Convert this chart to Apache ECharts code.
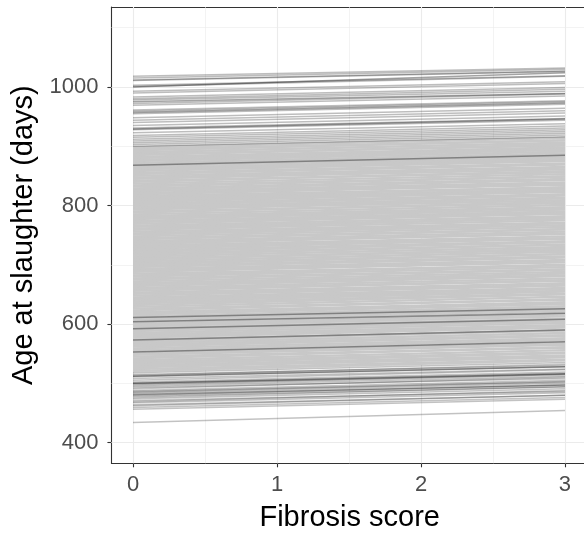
<!DOCTYPE html>
<html>
<head>
<meta charset="utf-8">
<script src="https://cdn.jsdelivr.net/npm/echarts@6/dist/echarts.min.js"></script>
<style>
  html, body { margin: 0; padding: 0; background: #fff; }
  #chart { width: 584px; height: 533px; }
</style>
</head>
<body>
<div id="chart"></div>
<script>
// fibrosis score at the two ends of each animal's line
const fibrosisScore = [0, 3];

// predicted age at slaughter (days), upper band
const upperAt0 = [1018, 1015, 1012, 1011, 1003, 1001, 993, 990, 983, 980, 978, 972, 969, 961, 959,
  955, 948, 944, 940, 935, 931, 928, 923, 918, 915, 912, 909, 906, 903, 900];
const upperAt3 = [1032, 1030, 1027, 1026, 1019, 1018, 1009, 1006, 999, 996, 993, 988, 985, 977, 975,
  971, 964, 960, 956, 951, 947, 944, 938, 934, 931, 928, 925, 922, 919, 916];

// middle (dense) band
const middleAt0 = [898, 895, 893, 890, 887, 885, 882, 880, 877, 875,
  872, 870, 868, 867, 866, 863, 861, 858, 855,
  853, 850, 847, 845, 842, 840, 837, 834, 832, 829,
  827, 824, 821, 819, 816, 813, 811, 809, 806, 803,
  801, 798, 795, 793, 790, 788, 785, 782, 779, 777,
  774, 772, 769, 766, 764, 761, 759, 756, 753, 751,
  748, 745, 743, 740, 738, 735, 732, 730, 727, 724,
  722, 719, 717, 714, 711, 709, 706, 703, 701, 698,
  696, 693, 690, 688, 685, 682, 680, 677, 675, 672,
  669, 667, 664, 661, 659, 656, 653, 651, 648, 645, 643, 641,
  638, 635, 632, 629, 626, 623, 620, 618, 616, 613,
  610, 608, 607, 604, 601, 598, 596, 593, 590, 588,
  585, 582, 579, 577, 574, 571, 568, 565, 562, 559,
  556, 553, 550, 548, 545, 542, 539, 536, 533, 530,
  527, 524, 521];
const middleAt3 = [914, 910, 910, 906, 901, 903, 898, 895, 894, 891,
  888, 885, 885, 881, 884, 879, 876, 875, 871,
  869, 865, 864, 861, 856, 858, 853, 849, 849, 845,
  843, 839, 838, 835, 830, 831, 827, 824, 823, 819,
  817, 813, 812, 809, 804, 806, 801, 797, 796, 793,
  790, 787, 786, 782, 778, 779, 775, 771, 770, 767,
  764, 760, 760, 756, 752, 753, 748, 745, 744, 740,
  738, 734, 734, 730, 725, 727, 722, 718, 718, 714,
  712, 708, 707, 704, 699, 700, 696, 692, 692, 688,
  685, 682, 681, 677, 673, 674, 669, 666, 665, 661, 659, 656,
  655, 651, 650, 646, 641, 642, 637, 634, 634, 630,
  627, 624, 625, 621, 616, 617, 613, 609, 608, 605,
  602, 598, 597, 594, 589, 590, 585, 581, 580, 576,
  573, 569, 568, 565, 560, 561, 556, 552, 551, 547,
  544, 540, 539];

// lower band
const lowerAt0 = [518, 515, 513, 511, 508, 505, 502, 500, 499, 497,
  495, 493, 491, 488, 486, 485, 483, 480, 478, 476,
  474, 471, 469, 467, 464, 462, 459, 456, 434];
const lowerAt3 = [535, 530, 532, 528, 524, 523, 519, 517, 515, 515,
  512, 508, 510, 505, 502, 503, 500, 497, 494, 494,
  491, 486, 488, 484, 480, 480, 476, 473, 454];

// animals whose lines stand out darker
const darkAt0 = [1000, 975, 957, 929, 868, 611, 604, 592, 573, 553, 512, 500, 481];
const darkAt3 = [1024, 989, 973, 946, 885, 626, 618, 608, 590, 570, 528, 516, 497];

const xTicks = [0, 1, 2, 3];
const yTicks = [400, 600, 800, 1000];
const xMinor = [0.5, 1.5, 2.5];
const yMinor = [500, 700, 900, 1100];

const font = "'Liberation Sans', Arial, sans-serif";
const mChart = echarts.init(document.getElementById('chart'));

const gridLines = [];
xTicks.forEach(v => gridLines.push({ xAxis: v, lineStyle: { width: 1.1 } }));
xMinor.forEach(v => gridLines.push({ xAxis: v, lineStyle: { width: 0.6 } }));
yTicks.forEach(v => gridLines.push({ yAxis: v, lineStyle: { width: 1.1 } }));
yMinor.forEach(v => gridLines.push({ yAxis: v, lineStyle: { width: 0.6 } }));

const series = [{
  type: 'line',
  data: [],
  silent: true,
  z: 1,
  markLine: {
    z: 1,
    silent: true,
    symbol: 'none',
    label: { show: false },
    animation: false,
    lineStyle: { color: '#ebebeb', type: 'solid' },
    data: gridLines
  }
}];

const addLines = (at0, at3, style, z) => {
  at0.forEach((a, i) => {
    series.push({
      type: 'line',
      data: [[fibrosisScore[0], a], [fibrosisScore[1], at3[i]]],
      symbol: 'none',
      silent: true,
      z: z,
      lineStyle: style
    });
  });
};

addLines(middleAt0, middleAt3, { color: '#c8c8c8', width: 2.4 }, 2);
addLines(upperAt0, upperAt3, { color: 'rgba(0,0,0,0.26)', width: 1.5 }, 3);
addLines(lowerAt0, lowerAt3, { color: 'rgba(0,0,0,0.24)', width: 1.5 }, 3);
addLines(darkAt0, darkAt3, { color: 'rgba(0,0,0,0.36)', width: 1.5 }, 4);

const borderLine = { show: true, onZero: false, lineStyle: { color: '#333333', width: 1.1 } };

const options = {
  animation: false,
  grid: {
    left: 111.4,
    top: 7,
    right: 0,
    bottom: 69.7,
    containLabel: false,
    outerBoundsMode: 'none'
  },
  xAxis: [{
    type: 'value',
    min: -0.15,
    max: 3.132,
    splitLine: { show: false },
    axisLine: borderLine,
    axisTick: { show: true, customValues: xTicks, length: 4, lineStyle: { color: '#333333', width: 1.1 } },
    axisLabel: { customValues: xTicks, color: '#4d4d4d', fontSize: 22, fontFamily: font, margin: 11,
      formatter: v => String(v) },
    name: 'Fibrosis score',
    nameLocation: 'middle',
    nameGap: 40,
    nameTextStyle: { color: '#000', fontSize: 29, fontFamily: font, padding: [0, 0, 0, 4] }
  }, {
    // top edge of the panel
    type: 'value',
    position: 'top',
    min: -0.15,
    max: 3.132,
    splitLine: { show: false },
    axisLine: borderLine,
    axisTick: { show: false },
    axisLabel: { show: false }
  }],
  yAxis: {
    type: 'value',
    position: 'left',
    min: 365,
    max: 1135,
    splitLine: { show: false },
    axisLine: borderLine,
    axisTick: { show: true, customValues: yTicks, length: 4, lineStyle: { color: '#333333', width: 1.1 } },
    axisLabel: { customValues: yTicks, color: '#4d4d4d', fontSize: 22, fontFamily: font, margin: 13,
      formatter: v => String(v) },
    name: 'Age at slaughter (days)',
    nameLocation: 'middle',
    nameGap: 72,
    nameRotate: 90,
    nameTextStyle: { color: '#000', fontSize: 29, fontFamily: font }
  },
  series: series
};
mChart.setOption(options);
</script>
</body>
</html>
